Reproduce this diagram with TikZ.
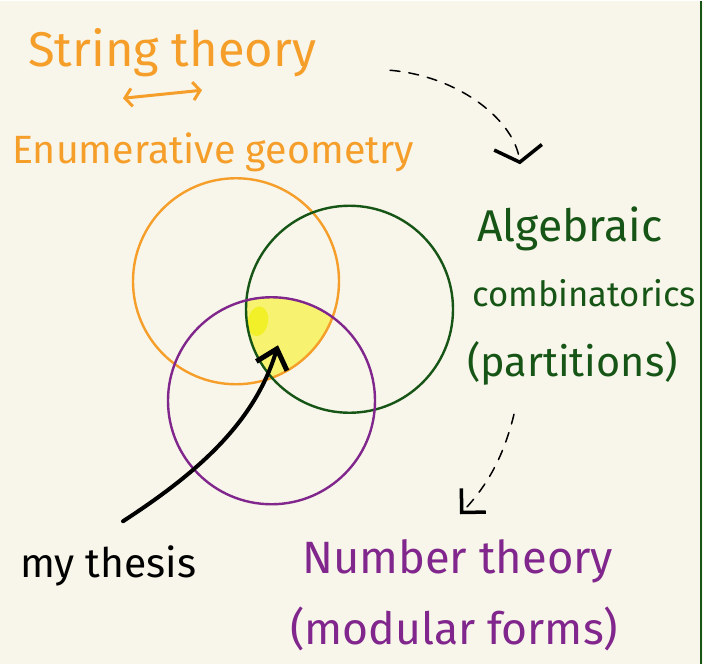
\documentclass[tikz,border=0pt]{standalone}
\usepackage{fontspec}
\setmainfont{Fira Sans}
\usetikzlibrary{arrows.meta}
\definecolor{paper}{RGB}{248,246,234}
\definecolor{stringorange}{RGB}{245,158,42}
\definecolor{combgreen}{RGB}{22,85,22}
\definecolor{numpurple}{RGB}{128,38,140}
\definecolor{thesisyellow}{RGB}{247,243,112}
\definecolor{blobyellow}{RGB}{242,240,40}
\newcommand{\fs}[1]{\fontsize{#1pt}{#1pt}\selectfont}

\begin{document}
\begin{tikzpicture}[x=1pt, y=-1pt,
  txt/.style={inner sep=0pt, anchor=base west},
  ring/.style={line width=2.4pt},
  hint/.style={line width=1.5pt, dash pattern=on 10pt off 9pt, line cap=round},
  pen/.style={line width=4pt, line cap=round}
]
  % paper
  \fill[paper] (0,0) rectangle (703,663);
  \draw[combgreen, line width=2.5pt] (701,0) -- (701,663);

  % overlap of the three fields
  \begin{scope}
    \clip (236,280) circle (103);
    \clip (349.5,308) circle (103.5);
    \fill[thesisyellow] (271.5,399.5) circle (103.5);
  \end{scope}
  \fill[blobyellow, rotate around={-10:(258,320)}] (258,320) ellipse (10 and 15);

  \draw[ring, stringorange] (236,280) circle (103);
  \draw[ring, combgreen] (349.5,308) circle (103.5);
  \draw[ring, numpurple] (271.5,399.5) circle (103.5);

  % labels
  \node[txt, stringorange, font=\fs{48.8}] (string) at (28,65) {String theory};
  \node[txt, stringorange, font=\fs{39.4}] (enum) at (12,162) {Enumerative geometry};
  \node[txt, combgreen, font=\fs{44.5}] (alg) at (477,240) {Algebraic};
  \node[txt, combgreen, font=\fs{34.7}] (comb) at (472,305) {combinatorics};
  \node[txt, combgreen, font=\fs{41.4}] (part) at (467,375) {(partitions)};
  \node[txt, font=\fs{40.8}] (thesis) at (20,576) {my thesis};
  \node[txt, numpurple, font=\fs{45.3}] (numb) at (302,572) {Number theory};
  \node[txt, numpurple, font=\fs{44.5}] (modf) at (290,643) {(modular forms)};

  \coordinate (dual-l) at (123,97);
  \coordinate (dual-r) at (202,89);
  \coordinate (hint1-s) at (390,69);
  \coordinate (hint1-e) at (520,163);
  \coordinate (hint2-s) at (514,413);
  \coordinate (hint2-e) at (460,513);
  \coordinate (thesis-s) at (123,520);
  \coordinate (core) at (278,344);

  % arrows
  \draw[pen, stringorange, line width=3pt, {Straight Barb[length=7pt,width=18pt]}-{Straight Barb[length=7pt,width=18pt]}] (dual-l) -- (dual-r);
  \draw[hint, -{Straight Barb[length=15pt,width=48pt,line width=3.5pt]}] (hint1-s) .. controls (460,75) and (515,120) .. (hint1-e);
  \draw[hint, -{Straight Barb[length=17pt,width=34pt,line width=3.5pt]}] (hint2-s) .. controls (505,450) and (490,482) .. (hint2-e);
  \draw[pen, -{Straight Barb[length=18pt,width=32pt,line width=5pt]}] (thesis-s) .. controls (200,470) and (255,420) .. (core);
\end{tikzpicture}
\end{document}
